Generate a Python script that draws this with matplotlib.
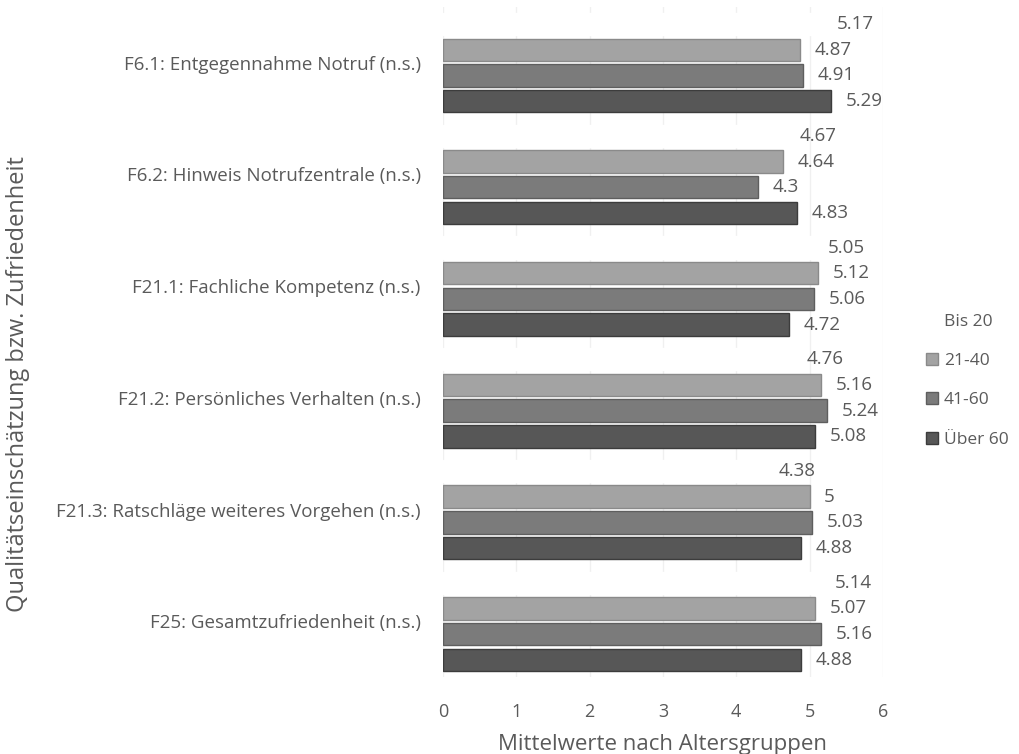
import numpy as np
import matplotlib
matplotlib.use("Agg")
import matplotlib.pyplot as plt
from matplotlib.patches import Patch

plt.rcParams['font.family'] = ['Open Sans', 'DejaVu Sans']

categories = [
    "F6.1: Entgegennahme Notruf (n.s.)",
    "F6.2: Hinweis Notrufzentrale (n.s.)",
    "F21.1: Fachliche Kompetenz (n.s.)",
    "F21.2: Persönliches Verhalten (n.s.)",
    "F21.3: Ratschläge weiteres Vorgehen (n.s.)",
    "F25: Gesamtzufriedenheit (n.s.)",
]
series_names = ["Bis 20", "21-40", "41-60", "Über 60"]
bis_20 = [5.17, 4.67, 5.05, 4.76, 4.38, 5.14]
age_21_40 = [4.87, 4.64, 5.12, 5.16, 5.00, 5.07]
age_41_60 = [4.91, 4.30, 5.06, 5.24, 5.03, 5.16]
ueber_60 = [5.29, 4.83, 4.72, 5.08, 4.88, 4.88]
value_labels = [
    ["5.17", "4.67", "5.05", "4.76", "4.38", "5.14"],
    ["4.87", "4.64", "5.12", "5.16", "5", "5.07"],
    ["4.91", "4.3", "5.06", "5.24", "5.03", "5.16"],
    ["5.29", "4.83", "4.72", "5.08", "4.88", "4.88"],
]
x_ticks = [0, 1, 2, 3, 4, 5, 6]

series = [bis_20, age_21_40, age_41_60, ueber_60]
fills = ["#ffffff", "#a3a3a3", "#7b7b7b", "#575757"]
edges = ["#ffffff", "#8a8a8a", "#5e5e5e", "#3c3c3c"]
text_color = "#5a5a5a"

fig = plt.figure(figsize=(10.19, 7.54), dpi=100)
ax = fig.add_axes([0.4347, 0.102, 0.4318, 0.889])

slot = 0.23
height = 0.2
y = np.arange(len(categories))
for k, (vals, fc, ec) in enumerate(zip(series, fills, edges)):
    pos = y + (k - 1.5) * slot
    ax.barh(pos, vals, height=height, color=fc, edgecolor=ec,
            linewidth=1.0, zorder=3)
    for p, v, lab in zip(pos, vals, value_labels[k]):
        ax.annotate(lab, xy=(v, p), xytext=(10.5, 0), textcoords="offset points",
                    ha="left", va="center", fontsize=13.5, color=text_color)

ax.set_xlim(0, 6)
ax.set_ylim(len(categories) - 0.5, -0.5)
ax.set_yticks(y)
ax.set_yticklabels(categories, fontsize=13.5, color=text_color)
ax.set_xticks(x_ticks)
ax.set_xticklabels([str(t) for t in x_ticks], fontsize=13, color=text_color)
ax.tick_params(axis="both", length=0)
ax.tick_params(axis="y", pad=16)
ax.tick_params(axis="x", pad=19)
ax.xaxis.grid(True, color="#f0f0f0", linewidth=1, zorder=0)
ax.set_axisbelow(True)
for s in ax.spines.values():
    s.set_visible(False)

ax.set_xlabel("Mittelwerte nach Altersgruppen", fontsize=16, color=text_color,
              labelpad=9)
fig.text(0.018, 0.49, "Qualitätseinschätzung bzw. Zufriedenheit", rotation=90,
         ha="center", va="center", fontsize=17, color=text_color)

handles = [Patch(facecolor=fc, edgecolor=ec) for fc, ec in zip(fills, edges)]
leg = fig.legend(handles, series_names, loc="upper left",
                 bbox_to_anchor=(0.893, 0.605), frameon=False, fontsize=12.5,
                 labelspacing=1.34, handlelength=0.7, handleheight=0.7,
                 handletextpad=0.35)
for t in leg.get_texts():
    t.set_color(text_color)

fig.savefig("out.png", dpi=100, facecolor="white")
